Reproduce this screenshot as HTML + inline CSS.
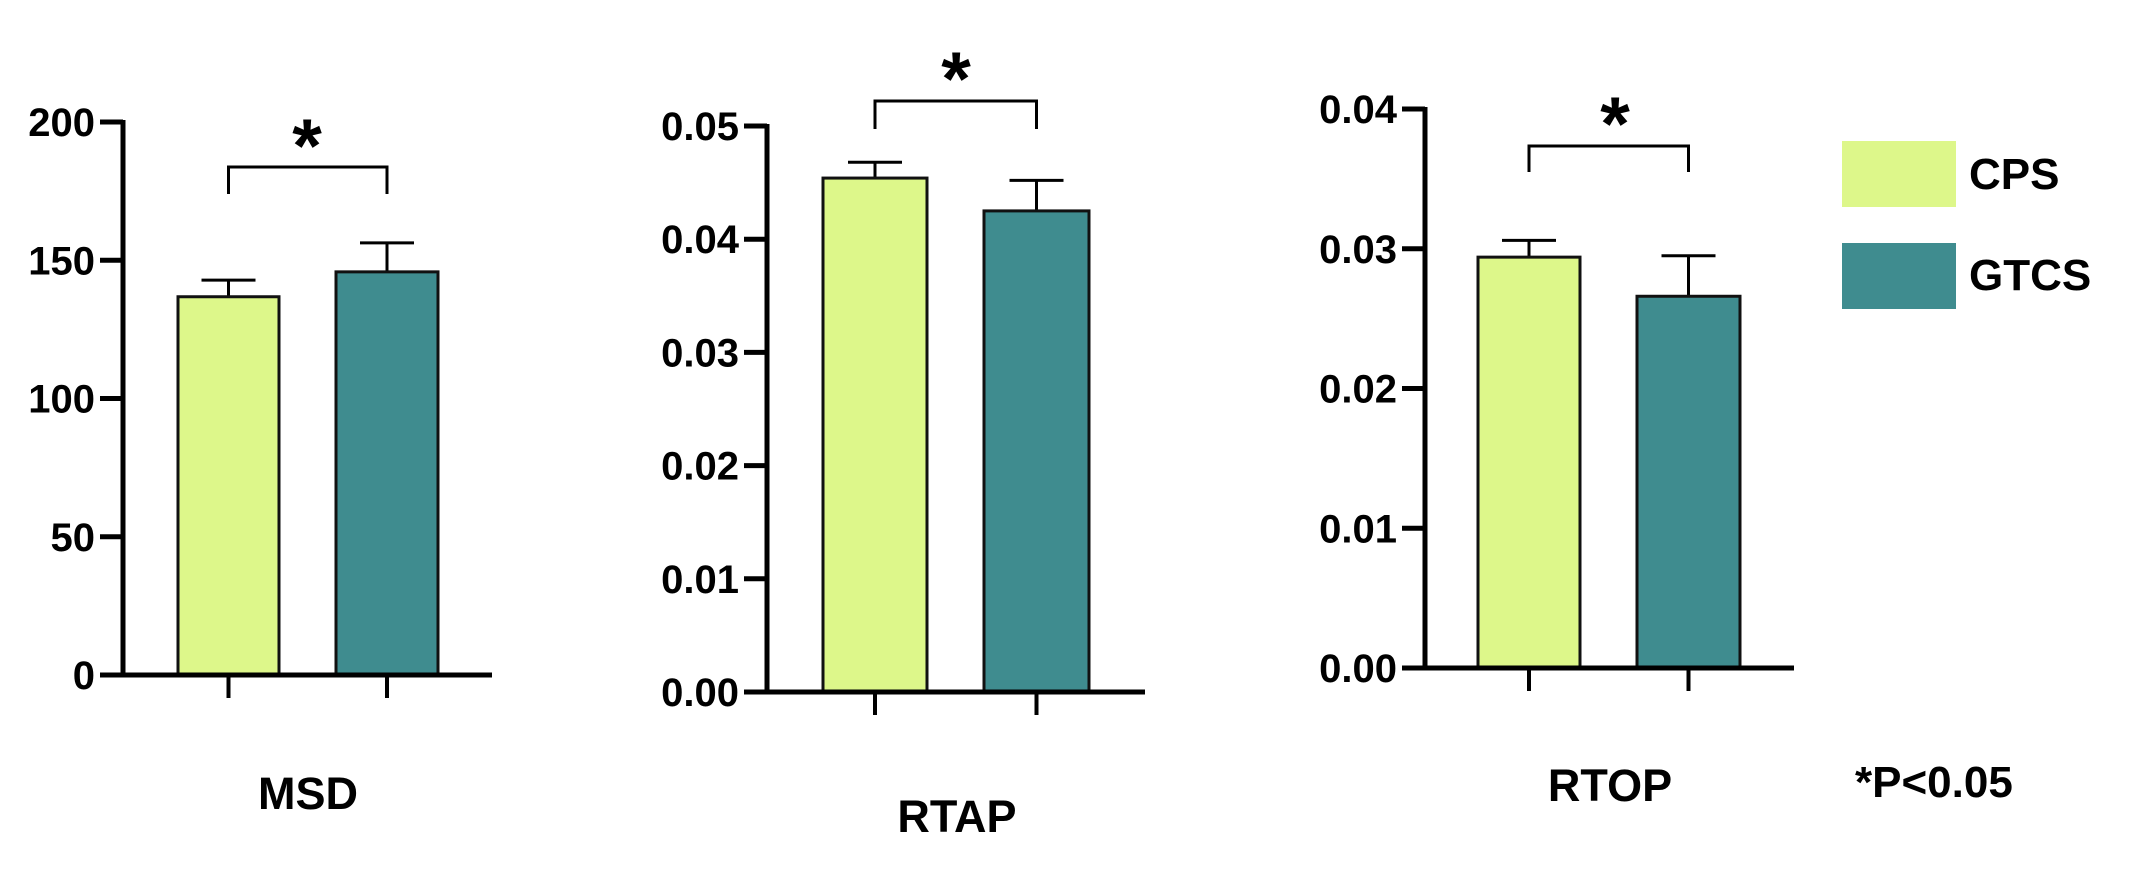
<!DOCTYPE html>
<html><head><meta charset="utf-8"><style>
html,body{margin:0;padding:0;background:#fff;}
svg{display:block;font-family:"Liberation Sans",Arial,sans-serif;font-weight:bold;}
</style></head><body>
<svg id="chart" width="2142" height="876" viewBox="0 0 2142 876" xmlns="http://www.w3.org/2000/svg">
  <g>
    <rect x="1842" y="141" width="114" height="66" fill="#ddf78a"/>
    <text x="1969" y="189" font-size="44">CPS</text>
    <rect x="1842" y="243" width="114" height="66" fill="#3f8c8f"/>
    <text x="1969" y="290" font-size="44">GTCS</text>
  </g>
  <text x="1855" y="797" font-size="44">*P&lt;0.05</text>
</svg>
<script>
const panelNames = ["MSD", "RTAP", "RTOP"];
const groups = ["CPS", "GTCS"];
const meanMSD = [136.8, 145.8];
const errMSD = [6.0, 10.5];
const meanRTAP = [0.0454, 0.0425];
const errRTAP = [0.0014, 0.0027];
const meanRTOP = [0.0294, 0.0266];
const errRTOP = [0.0012, 0.0029];
const ticksMSD = [0, 50, 100, 150, 200];
const ticksRTAP = [0, 0.01, 0.02, 0.03, 0.04, 0.05];
const ticksRTOP = [0, 0.01, 0.02, 0.03, 0.04];
const tickLabelsMSD = ["0", "50", "100", "150", "200"];
const tickLabelsRTAP = ["0.00", "0.01", "0.02", "0.03", "0.04", "0.05"];
const tickLabelsRTOP = ["0.00", "0.01", "0.02", "0.03", "0.04"];

const NS = "http://www.w3.org/2000/svg";
const svg = document.getElementById("chart");
const colors = ["#ddf78a", "#3f8c8f"];

function mk(tag, attrs, parent) {
  const e = document.createElementNS(NS, tag);
  for (const k in attrs) e.setAttribute(k, attrs[k]);
  parent.appendChild(e);
  return e;
}

const layouts = [
  {ax:123, y0:675, yTop:122, xEnd:492, bars:[[178,279],[336,438]], ticks:ticksMSD, labels:tickLabelsMSD, means:meanMSD, errs:errMSD, brY:167, brDrop:194, starX:307, starY:129, titleX:308, titleY:809},
  {ax:767, y0:692, yTop:126, xEnd:1145, bars:[[823,927],[984,1089]], ticks:ticksRTAP, labels:tickLabelsRTAP, means:meanRTAP, errs:errRTAP, brY:101, brDrop:129, starX:956, starY:62, titleX:957, titleY:832},
  {ax:1425, y0:668, yTop:109, xEnd:1794, bars:[[1478,1580],[1637,1740]], ticks:ticksRTOP, labels:tickLabelsRTOP, means:meanRTOP, errs:errRTOP, brY:146, brDrop:172, starX:1615, starY:107, titleX:1610, titleY:801}
];

layouts.forEach((L, p) => {
  const g = mk("g", {}, svg);
  
  
  const maxV = L.ticks[L.ticks.length - 1];
  const yScale = v => L.y0 - (v / maxV) * (L.y0 - L.yTop);
  // bars
  L.means.forEach((m, i) => {
    const [x1, x2] = L.bars[i];
    const cx = (x1 + x2) / 2;
    const eTop = yScale(m + L.errs[i]);
    const err = mk("path", {d:`M${cx},${yScale(m)} V${eTop} M${cx-27},${eTop} H${cx+27}`, stroke:"#000", "stroke-width":3, fill:"none"}, g);
    
    
    const r = mk("rect", {x:x1, y:yScale(m), width:x2-x1, height:L.y0-yScale(m), fill:colors[i], stroke:"#111", "stroke-width":3}, g);
    
    
    const xt = mk("line", {x1:cx, x2:cx, y1:L.y0, y2:L.y0+23, stroke:"#000", "stroke-width":4}, g);
    
    
  });
  // axes
  const ya = mk("line", {x1:L.ax, x2:L.ax, y1:L.yTop-2, y2:L.y0+2, stroke:"#000", "stroke-width":5}, g);
  
  
  const xa = mk("line", {x1:L.ax-23, x2:L.xEnd, y1:L.y0, y2:L.y0, stroke:"#000", "stroke-width":5}, g);
  
  
  L.ticks.forEach((t, k) => {
    const y = yScale(t);
    const tl = mk("line", {x1:L.ax-23, x2:L.ax, y1:y, y2:y, stroke:"#000", "stroke-width":5}, g);
    
    
    const tx = mk("text", {x:L.ax-28, y:y+14, "font-size":40, "text-anchor":"end"}, g);
    tx.textContent = L.labels[k];
    
    
  });
  // bracket
  const c1 = (L.bars[0][0] + L.bars[0][1]) / 2, c2 = (L.bars[1][0] + L.bars[1][1]) / 2;
  const br = mk("path", {d:`M${c1},${L.brDrop} V${L.brY} H${c2} V${L.brDrop}`, stroke:"#000", "stroke-width":3, fill:"none"}, g);
  
  
  const st = mk("text", {x:L.starX, y:L.starY+43, "font-size":76, "text-anchor":"middle"}, g);
  st.textContent = "*";
  
  
  const ti = mk("text", {x:L.titleX, y:L.titleY, "font-size":45, "text-anchor":"middle"}, g);
  ti.textContent = panelNames[p];
  
  
});
</script>
</body></html>
